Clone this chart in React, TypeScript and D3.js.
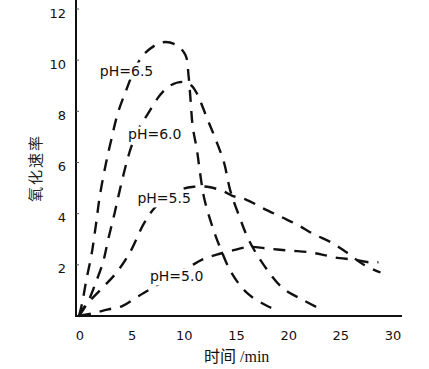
import * as d3 from "d3";

// time (min), oxidation rate
const xTicks = [0, 5, 10, 15, 20, 25, 30];
const yTicks = [2, 4, 6, 8, 10, 12];

const ph65: [number, number][] = [
  [0, 0], [0.3, 0.5], [0.7, 1.4], [1.2, 2.4], [1.6, 3.5], [2.0, 4.7], [2.6, 6.0],
  [3.1, 6.9], [3.7, 7.9], [4.5, 8.8], [5.4, 9.7], [6.4, 10.3], [8.0, 10.7],
  [9.3, 10.6], [10.2, 10.2], [10.5, 9.4], [10.7, 8.4], [10.9, 7.4], [11.3, 6.5],
  [11.6, 5.6], [12.0, 4.6], [12.7, 3.6], [13.5, 2.7], [14.6, 1.7], [16.1, 0.9],
  [18.0, 0.4], [19.2, 0.2],
];
const ph60: [number, number][] = [
  [0, 0], [0.85, 0.55], [1.6, 1.3], [2.3, 2.1], [2.8, 3.0], [3.4, 4.0], [3.9, 4.9],
  [4.5, 5.9], [5.0, 6.6], [5.7, 7.3], [6.6, 7.9], [7.7, 8.6], [8.7, 9.0],
  [10.0, 9.15], [10.8, 9.0], [11.3, 8.7], [12.3, 7.7], [13.1, 6.9], [13.9, 6.0],
  [14.5, 4.9], [15.4, 3.85], [16.3, 2.95], [17.7, 2.0], [19.5, 1.1], [21.6, 0.6],
  [23.5, 0.2],
];
const ph55: [number, number][] = [
  [0, 0], [0.5, 0.35], [2.0, 1.0], [3.6, 1.7], [4.9, 2.5], [6.2, 3.6], [7.2, 4.2],
  [8.5, 4.65], [9.8, 4.95], [11.0, 5.05], [12.3, 5.05], [13.7, 4.9], [14.7, 4.7],
  [16.0, 4.55], [17.7, 4.2], [19.5, 3.85], [21.0, 3.55], [22.5, 3.2], [24.3, 2.85],
  [25.6, 2.5], [27.3, 2.0], [28.9, 1.7],
];
const ph50: [number, number][] = [
  [0, 0], [1.5, 0.12], [2.7, 0.25], [4.1, 0.38], [5.4, 0.7], [6.2, 0.9], [8.5, 1.45],
  [10.5, 1.9], [11.8, 2.2], [13.2, 2.4], [14.6, 2.55], [16.3, 2.7], [17.8, 2.65],
  [19.0, 2.6], [20.4, 2.55], [21.9, 2.5], [23.3, 2.4], [24.6, 2.28], [26.4, 2.2],
  [27.8, 2.1], [28.7, 2.1],
];

const seriesNames = ["pH=6.5", "pH=6.0", "pH=5.5", "pH=5.0"];
const seriesData = [ph65, ph60, ph55, ph50];
// label anchor (time, rate) for each series
const labelAnchors: [number, number][] = [[2.0, 9.4], [4.7, 6.9], [5.6, 4.4], [6.8, 1.35]];

const width = 429;
const height = 369;

export default function App() {
  const x = d3.scaleLinear().domain([0, 30]).range([79, 392]);
  const y = d3.scaleLinear().domain([0, 12]).range([316, 9]);

  const line = d3
    .line<[number, number]>()
    .x((d) => x(d[0]))
    .y((d) => y(d[1]))
    .curve(d3.curveCatmullRom.alpha(0.5));

  return (
    <svg
      width={width}
      height={height}
      style={{ position: "absolute", left: 0, top: 0, background: "#fff" }}
    >
      <rect x={0} y={0} width={width} height={height} fill="#fff" />

      {seriesData.map((s, i) => (
        <path
          key={i}
          d={line(s) || ""}
          fill="none"
          stroke="#111"
          strokeWidth={2.4}
          strokeDasharray="12,9"
          strokeLinecap="butt"
        />
      ))}

      {seriesNames.map((name, i) => (
        <g key={name}>
          <rect
            x={x(labelAnchors[i][0]) - 2}
            y={y(labelAnchors[i][1]) - 13}
            width={59}
            height={17}
            fill="#fff"
          />
          <text
            x={x(labelAnchors[i][0])}
            y={y(labelAnchors[i][1])}
            fontFamily="DejaVu Sans"
            fontSize={14}
            fill="#111"
          >
            {name}
          </text>
        </g>
      ))}

      {/* axes */}
      <line x1={76} x2={76} y1={0} y2={y(0) + 1} stroke="#111" strokeWidth={2} />
      <line x1={75} x2={402} y1={y(0)} y2={y(0)} stroke="#111" strokeWidth={2} />
      {yTicks.map((t) => (
        <line key={"yt" + t} x1={76} x2={79} y1={y(t)} y2={y(t)} stroke="#555" strokeWidth={1} />
      ))}

      {xTicks.map((t) => (
        <text
          key={"x" + t}
          x={x(t) + 1}
          y={340}
          textAnchor="middle"
          fontFamily="DejaVu Sans"
          fontSize={13}
          fill="#111"
        >
          {t}
        </text>
      ))}
      {yTicks.map((t) => (
        <text
          key={"y" + t}
          x={66}
          y={y(t) + 4}
          dy="0.35em"
          textAnchor="end"
          fontFamily="DejaVu Sans"
          fontSize={13}
          fill="#111"
        >
          {t}
        </text>
      ))}

      <text
        transform="translate(41,168) rotate(-90)"
        textAnchor="middle"
        fontFamily="Noto Sans CJK SC"
        fontSize={15}
        letterSpacing={2}
        fill="#222"
      >
        氧化速率
      </text>
      <text x={204} y={362} fontSize={16} fill="#111">
        <tspan fontFamily="Noto Sans CJK SC">时间</tspan>
        <tspan fontFamily="Liberation Serif"> /min</tspan>
      </text>
    </svg>
  );
}
